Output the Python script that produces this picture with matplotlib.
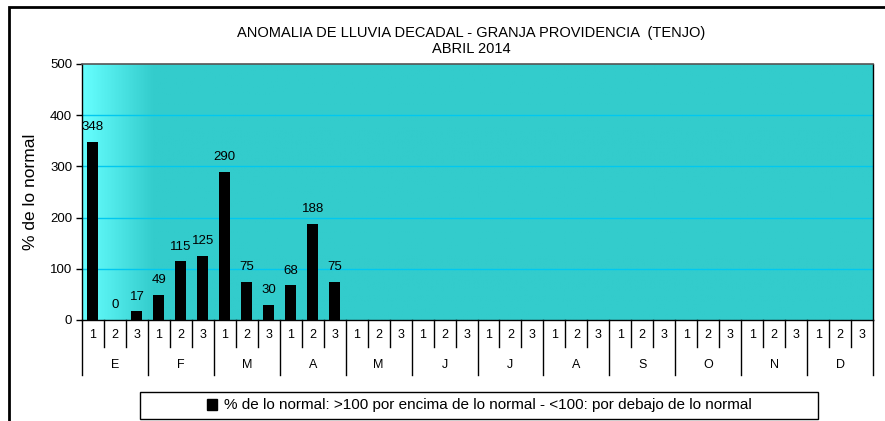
import matplotlib
matplotlib.use('Agg')
from matplotlib import pyplot as plt
from matplotlib.patches import Rectangle
from matplotlib.colors import LinearSegmentedColormap
import numpy as np

plt.rcParams['font.family'] = ['Liberation Sans', 'DejaVu Sans']

# data (decadal anomaly, % of normal)
months = ['E', 'F', 'M', 'A', 'M', 'J', 'J', 'A', 'S', 'O', 'N', 'D']
decades = ['1', '2', '3']
values = [348, 0, 17, 49, 115, 125, 290, 75, 30, 68, 188, 75]
title = 'ANOMALIA DE LLUVIA DECADAL - GRANJA PROVIDENCIA  (TENJO)\nABRIL 2014'
legend_label = '% de lo normal: >100 por encima de lo normal - <100: por debajo de lo normal'

W, H = 885, 421
fig = plt.figure(figsize=(W / 100, H / 100), dpi=100)
ax = fig.add_axes([82 / W, (H - 320) / H, (873 - 82) / W, (320 - 64) / H])

nslots = len(months) * len(decades)
ax.set_xlim(-0.5, nslots - 0.5)
ax.set_ylim(0, 500)

# background: teal with a light gradient at the left edge
grad = np.ones((2, 400))
xs = np.linspace(0, 1, 400)
grad[:] = np.clip(xs / 0.09, 0, 1)
cmap = LinearSegmentedColormap.from_list('bg', ['#66FFFF', '#33CCCC'])
ax.imshow(grad, extent=[0, 1, 0, 1], transform=ax.transAxes, aspect='auto',
          cmap=cmap, vmin=0, vmax=1, zorder=0)

for y in range(100, 500, 100):
    ax.axhline(y, color='#00C8F0', lw=1.0, zorder=1)

xpos = np.arange(len(values))
ax.bar(xpos, values, width=0.5, color='black', zorder=3)
for x, v in zip(xpos, values):
    ax.annotate(str(v), (x, v), xytext=(0, 10.5), textcoords='offset points',
                ha='center', va='center', fontsize=9.5, zorder=4)

ax.set_yticks(range(0, 501, 100))
ax.tick_params(axis='y', length=4, width=1, labelsize=9.5, pad=3)
ax.set_xticks([])
ax.set_ylabel('% de lo normal', fontsize=12.5, labelpad=9)

for side in ['left', 'bottom', 'right']:
    ax.spines[side].set_color('black')
    ax.spines[side].set_linewidth(1)
ax.spines['top'].set_color('#555555')
ax.spines['top'].set_linewidth(1.2)

# two-level category axis
tr = ax.get_xaxis_transform()
for i in range(nslots + 1):
    b = i - 0.5
    ylow = -0.215 if i % 3 == 0 else -0.105
    ax.plot([b, b], [0, ylow], color='black', lw=1, transform=tr, clip_on=False)
for i in range(nslots):
    ax.text(i, -0.06, decades[i % 3], transform=tr, ha='center', va='center', fontsize=9)
for m, name in enumerate(months):
    ax.text(m * 3 + 1, -0.175, name, transform=tr, ha='center', va='center', fontsize=9)

fig.text(471 / W, (H - 41) / H, title, ha='center', va='center', fontsize=10.5,
         linespacing=1.25)

# legend box
fig.patches.append(Rectangle((140 / W, (H - 419) / H), (818 - 140) / W, 27 / H,
                             transform=fig.transFigure, fill=False, ec='black', lw=1))
handle = Rectangle((0, 0), 1, 1, color='black')
fig.legend([handle], [legend_label], loc='center', bbox_to_anchor=(479 / W, (H - 405.5) / H),
           frameon=False, fontsize=11, handlelength=0.7, handleheight=0.7, handletextpad=0.4)

# outer chart frame (only top and left visible)
fig.patches.append(Rectangle((9 / W, -0.1), 1.1, (H - 7) / H + 0.1,
                             transform=fig.transFigure, fill=False, ec='black', lw=2))

fig.savefig('out.png', dpi=100)
